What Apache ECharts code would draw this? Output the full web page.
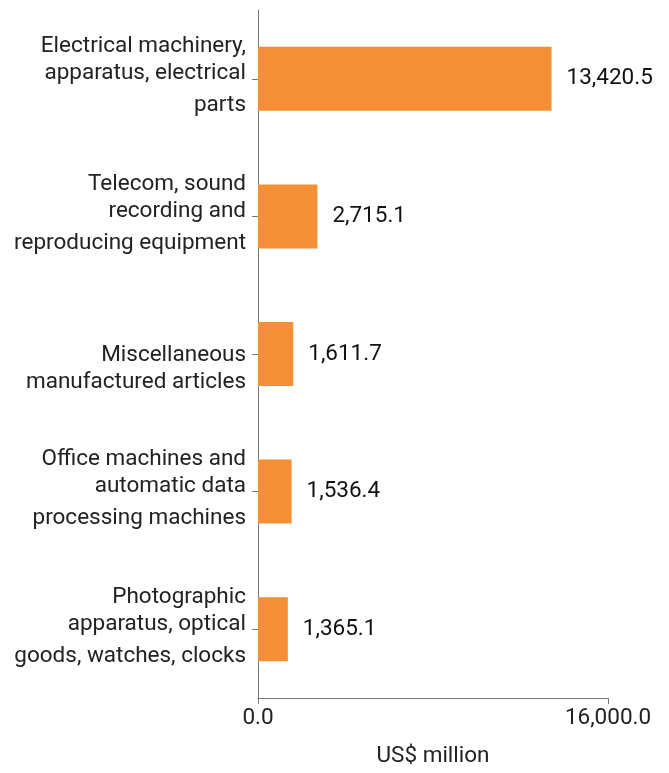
<!DOCTYPE html>
<html>
<head>
<meta charset="utf-8">
<script src="https://cdn.jsdelivr.net/npm/echarts@6/dist/echarts.min.js"></script>
<style>
  html, body { margin: 0; padding: 0; background: #fff; }
  #chart { width: 669px; height: 773px; }
</style>
</head>
<body>
<div id="chart"></div>
<script>
// Product groups, each split into the lines shown beside the axis
const categories = [
  ['Electrical machinery,', 'apparatus, electrical', 'parts'],
  ['Telecom, sound', 'recording and', 'reproducing equipment'],
  ['Miscellaneous', 'manufactured articles'],
  ['Office machines and', 'automatic data', 'processing machines'],
  ['Photographic', 'apparatus, optical', 'goods, watches, clocks']
];
// Values in US$ million
const values = [13420.5, 2715.1, 1611.7, 1536.4, 1365.1];
const xTicks = [0, 16000];
const xName = 'US$ million';

const FONT = 'Roboto';
const SIZE = 22.5;
const fmt = v => v.toLocaleString('en-US', { minimumFractionDigits: 1, maximumFractionDigits: 1 });

const chart = echarts.init(document.getElementById('chart'));
chart.setOption({
  animation: false,
  grid: { left: 258, right: 61, top: 10, bottom: 73, containLabel: false },
  xAxis: {
    type: 'value',
    min: xTicks[0],
    max: xTicks[1],
    interval: xTicks[1] - xTicks[0],
    name: xName,
    nameLocation: 'middle',
    nameGap: 47,
    nameTextStyle: { fontFamily: FONT, fontSize: SIZE, color: '#222' },
    axisLine: { show: true, lineStyle: { color: '#777', width: 1 } },
    axisTick: { show: true, length: 6, lineStyle: { color: '#777' } },
    axisLabel: { fontFamily: FONT, fontSize: SIZE, color: '#222', margin: 9, formatter: fmt },
    splitLine: { show: false }
  },
  yAxis: {
    type: 'category',
    inverse: true,
    data: categories.map(c => c.join('\n')),
    axisLine: { show: true, lineStyle: { color: '#777', width: 1 } },
    axisTick: { show: true, alignWithLabel: true, length: 6, lineStyle: { color: '#777' } },
    axisLabel: {
      margin: 12,
      align: 'right',
      formatter: (v) => {
        const lines = v.split('\n');
        if (lines.length === 3) {
          return '{a|' + lines[0] + '}\n{a|' + lines[1] + '}\n{c|' + lines[2] + '}';
        }
        return '{e| }\n{a|' + lines[0] + '}\n{a|' + lines[1] + '}';
      },
      rich: {
        a: { fontFamily: FONT, fontSize: SIZE, color: '#222', lineHeight: 27, align: 'right' },
        c: { fontFamily: FONT, fontSize: SIZE, color: '#222', lineHeight: 37, align: 'right' },
        e: { fontFamily: FONT, fontSize: 10, lineHeight: 29, align: 'right' }
      }
    }
  },
  series: [{
    type: 'bar',
    data: values,
    barWidth: 64,
    itemStyle: { color: '#F58F35' },
    label: {
      show: true,
      position: 'right',
      distance: 15,
      fontFamily: FONT,
      fontSize: SIZE,
      color: '#111',
      formatter: p => fmt(p.value)
    }
  }]
});
</script>
</body>
</html>
